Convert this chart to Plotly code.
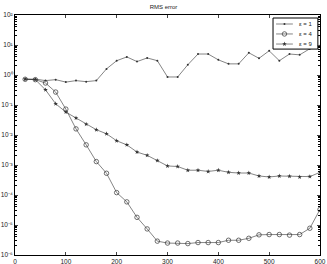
import plotly.graph_objects as go

x_vals = list(range(20, 601, 20))

eps1 = [0.73, 0.73, 0.65, 0.70, 0.58, 0.65, 0.60, 0.65, 1.6, 3.0,
        4.0, 2.8, 3.7, 3.0, 0.86, 0.86, 2.2, 5.0, 5.0, 3.2,
        2.35, 2.35, 5.5, 3.6, 6.4, 3.0, 5.0, 4.7, 7.5, 9.5]

eps4 = [0.72, 0.70, 0.54, 0.27, 0.073, 0.016, 0.0047, 0.0013, 0.00053, 1.2e-4,
        5.9e-5, 1.8e-5, 7.4e-6, 2.9e-6, 2.5e-6, 2.5e-6, 2.4e-6, 2.6e-6, 2.6e-6, 2.6e-6,
        3.1e-6, 3.1e-6, 3.6e-6, 4.7e-6, 4.8e-6, 4.8e-6, 4.6e-6, 4.8e-6, 7.8e-6, 3.3e-5]

eps9 = [0.72, 0.70, 0.32, 0.11, 0.058, 0.037, 0.023, 0.015, 0.011, 0.0064,
        0.0047, 0.0027, 0.0021, 0.0014, 9.3e-4, 8.9e-4, 6.7e-4, 6.7e-4, 6.1e-4, 6.7e-4,
        5.7e-4, 5.4e-4, 5.4e-4, 4.3e-4, 4.0e-4, 4.3e-4, 4.2e-4, 4.0e-4, 4.1e-4, 5.7e-4]

series_names = ["ε = 1", "ε = 4", "ε = 9"]
x_ticks = [0, 100, 200, 300, 400, 500, 600]
y_exps = [-6, -5, -4, -3, -2, -1, 0, 1, 2]

SUP = str.maketrans("-0123456789", "⁻⁰¹²³⁴⁵⁶⁷⁸⁹")

line_color = "#333333"
styles = [
    dict(symbol="circle", size=2, color=line_color),
    dict(symbol="circle-open", size=4.5, color=line_color, line=dict(width=0.7, color=line_color)),
    dict(symbol="star", size=3.5, color=line_color),
]

fig = go.Figure()
for name, ys, mk in zip(series_names, [eps1, eps4, eps9], styles):
    fig.add_trace(go.Scatter(x=x_vals, y=ys, name=name, mode="lines+markers",
                             line=dict(color=line_color, width=0.6), marker=mk,
                             showlegend=False))

# custom compact legend on an overlay axis (fractions of the plot area)
lg_left, lg_right, lg_top, lg_bottom = 0.846, 0.993, 0.9875, 0.858
fig.add_trace(go.Scatter(x=[lg_left, lg_right, lg_right, lg_left, lg_left],
                         y=[lg_bottom, lg_bottom, lg_top, lg_top, lg_bottom],
                         mode="lines", fill="toself", fillcolor="white",
                         line=dict(color="black", width=1), xaxis="x2", yaxis="y2",
                         showlegend=False, hoverinfo="skip"))
row_y = [0.9625, 0.921, 0.879]
for name, ry, mk in zip(series_names, row_y, styles):
    fig.add_trace(go.Scatter(x=[0.856, 0.911], y=[ry, ry], mode="lines",
                             line=dict(color=line_color, width=0.6),
                             xaxis="x2", yaxis="y2", showlegend=False, hoverinfo="skip"))
    fig.add_trace(go.Scatter(x=[0.8835], y=[ry], mode="markers", marker=mk,
                             xaxis="x2", yaxis="y2", showlegend=False, hoverinfo="skip"))
    fig.add_annotation(x=0.925, y=ry, xref="x2", yref="y2", text=name, showarrow=False,
                       xanchor="left", yanchor="middle", font=dict(size=6, color="#222222"))

minor_vals = [m * 10 ** e for e in y_exps[:-1] for m in range(2, 10)]

fig.update_layout(
    template="none",
    width=327, height=264,
    margin=dict(l=15, r=7, t=15, b=9, autoexpand=False),
    paper_bgcolor="white", plot_bgcolor="white",
    font=dict(family="Liberation Sans, Arial, sans-serif", size=6, color="#222222"),
    title=dict(text="RMS error", x=0.5, xanchor="center", y=1 - 7 / 264, yanchor="middle",
               font=dict(size=6)),
    showlegend=False,
    xaxis=dict(range=[0, 600], tickvals=x_ticks, ticks="inside", ticklen=3,
               showline=True, linecolor="black", linewidth=1, mirror="ticks",
               ticklabeloverflow="allow", automargin=False,
               showgrid=False, zeroline=False, tickfont=dict(size=6.5)),
    yaxis=dict(type="log", range=[-6, 2],
               tickvals=[10 ** e for e in y_exps],
               ticktext=["10" + str(e).translate(SUP) for e in y_exps],
               ticks="inside", ticklen=3, ticklabeloverflow="allow", automargin=False,
               minor=dict(tickvals=minor_vals, ticks="inside", ticklen=2, showgrid=False,
                          tickcolor="black"),
               showline=True, linecolor="black", linewidth=1, mirror="ticks",
               showgrid=False, zeroline=False, tickfont=dict(size=6.5)),
    xaxis2=dict(overlaying="x", range=[0, 1], visible=False, fixedrange=True),
    yaxis2=dict(overlaying="y", range=[0, 1], visible=False, fixedrange=True),
)

fig.write_html("out.html",
               config={"displayModeBar": False},
               post_script="document.body.style.margin='0px';document.body.style.overflow='hidden';")
